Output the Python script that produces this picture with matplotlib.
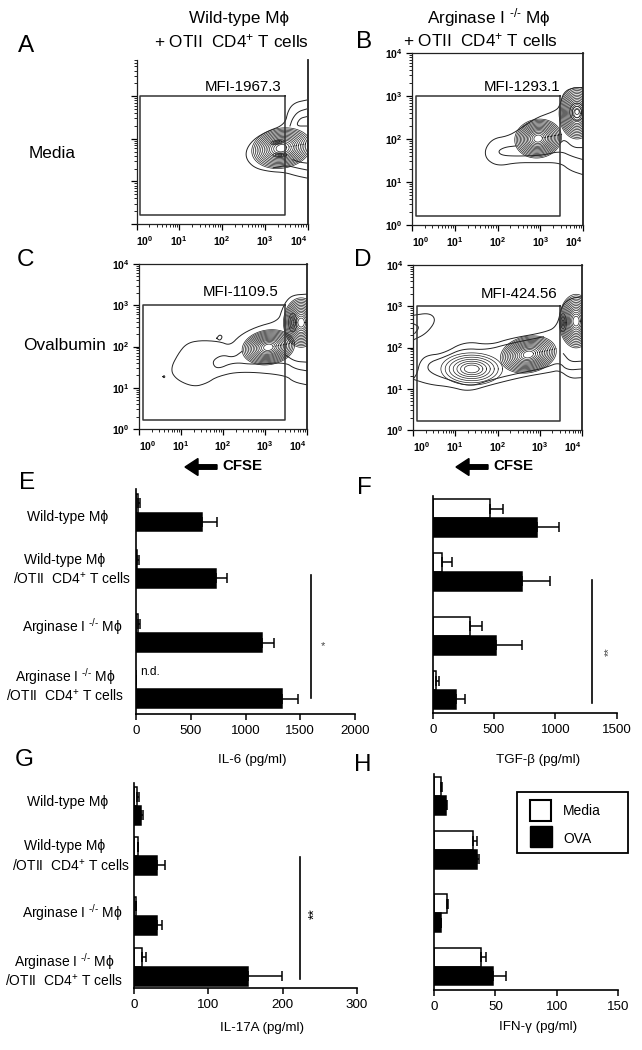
import numpy as np
import matplotlib
matplotlib.use("Agg")
import matplotlib.pyplot as plt
from matplotlib.patches import Rectangle, FancyArrow
from matplotlib.ticker import LogLocator, NullFormatter

plt.rcParams['font.family'] = ['Liberation Sans', 'DejaVu Sans']
plt.rcParams['mathtext.fontset'] = 'custom'
plt.rcParams['mathtext.rm'] = 'Liberation Sans'
plt.rcParams['mathtext.bf'] = 'Liberation Sans:bold'
plt.rcParams['mathtext.default'] = 'regular'

W, H = 642, 1050

# FLOW PANELS: contour outlines, in decades (log10 x, log10 y)

A_LINES = [
    [(3.98,2.91),(3.70,2.85),(3.55,2.68),(3.47,2.33),(3.04,2.17),(2.73,1.98),(2.56,1.74),(2.57,1.51),
     (2.77,1.31),(3.12,1.23),(3.47,1.21),(3.74,1.13),(3.98,1.08)],
    [(3.98,2.70),(3.78,2.64),(3.65,2.48),(3.59,2.30)],
    [(3.98,2.52),(3.82,2.48),(3.73,2.30),(3.98,2.30)],
    [(3.98,1.27),(3.78,1.31),(3.51,1.375),(3.2,1.32)],
    [(3.98,1.43),(3.82,1.45),(3.66,1.51)],
]
B_LINES = [
    [(4.0,3.20),(3.69,3.18),(3.53,3.05),(3.47,2.81),(3.38,2.66),(2.91,2.50),(2.52,2.23),(2.25,2.07),(1.89,2.01),
     (1.70,1.76),(1.74,1.52),(2.01,1.37),(2.44,1.45),(2.91,1.45),(3.47,1.45),(3.69,1.27),(4.0,1.17)],
    [(2.44,1.84),(2.17,1.81),(2.01,1.72),(2.09,1.62),(2.44,1.60),(3.06,1.62),(3.47,1.72),(3.73,1.60),(4.0,1.52)],
    [(3.47,1.91),(3.57,1.99),(3.77,1.80),(4.0,1.80)],
]
C_LINES = [
    [(4.0,3.27),(3.68,3.25),(3.52,3.13),(3.40,2.89),(3.32,2.62),(2.80,2.48),(2.41,2.28),(2.17,2.02),(1.93,2.12),
     (1.46,2.15),(1.14,2.08),(0.94,1.84),(0.74,1.44),(0.90,1.19),(1.30,1.02),(1.62,1.11),(1.85,1.27),(2.41,1.40),
     (3.48,1.31),(3.68,1.14),(4.0,1.07)],
    [(2.45,1.88),(2.25,1.73),(1.97,1.80),(1.73,1.64),(1.85,1.44),(2.25,1.62),(2.72,1.56),(3.48,1.62),(3.71,1.46),(4.0,1.41)],
    [(3.48,1.80),(3.71,1.64),(4.0,1.62)],
    [(1.85,2.20),(1.92,2.29),(1.99,2.24),(1.93,2.14),(1.85,2.20)],
    [(0.57,1.27),(0.60,1.30),(0.62,1.26),(0.59,1.24),(0.57,1.27)],
]
D_LINES = [
    [(4.0,3.23),(3.72,3.19),(3.52,3.02),(3.41,2.50),(3.09,2.36),(2.30,2.22),(1.82,2.06),(1.23,2.15),(0.71,1.85),
     (0.32,1.81),(0.16,1.65),(0.10,1.37),(0.0,1.23)],
    [(0.0,1.23),(0.40,1.10),(0.87,1.05),(1.31,0.93),(1.82,1.09),(2.61,1.29),(3.25,1.40),(3.46,1.45),(3.72,1.25),(4.0,1.27)],
    [(3.09,2.26),(2.30,2.10),(1.74,1.94),(1.19,1.98),(0.75,1.77),(0.40,1.65),(0.33,1.49),(0.48,1.35),(0.87,1.21),
     (1.35,1.05),(1.82,1.21),(2.46,1.37),(3.09,1.49),(3.46,1.65),(3.64,1.45),(4.0,1.48)],
    [(4.0,1.67),(3.72,1.65),(3.56,1.85)],
    [(0.0,2.78),(0.40,2.84),(0.55,2.66),(0.32,2.34),(0.0,2.18)],
    [(0.0,2.58),(0.16,2.50),(0.04,2.34)],
]

# ring spacing of each peak kind
DENSE = [1.0, 0.94, 0.88, 0.82, 0.76, 0.70, 0.64, 0.58, 0.52, 0.46, 0.40, 0.33, 0.26, 0.18]
WIDE = [1.0, 0.86, 0.73, 0.60, 0.48, 0.36, 0.24]
SMALL = [1.0, 0.65, 0.3]

# peaks: centre x, centre y, half width, half height, tilt in degrees, rings
A_PEAKS = [(3.39,1.78,0.70,0.47,10,DENSE), (3.30,1.92,0.16,0.05,10,SMALL), (3.35,1.62,0.16,0.05,0,SMALL)]
B_PEAKS = [(2.95,2.01,0.55,0.45,10,DENSE), (3.86,2.60,0.42,0.60,0,DENSE), (3.86,2.63,0.17,0.20,0,SMALL)]
C_PEAKS = [(3.08,1.98,0.63,0.42,10,DENSE), (3.86,2.58,0.42,0.60,0,DENSE), (3.66,2.58,0.10,0.22,0,SMALL)]
D_PEAKS = [(1.39,1.48,0.73,0.39,0,WIDE), (2.73,1.83,0.67,0.44,12,DENSE), (3.86,2.64,0.40,0.65,0,DENSE),
           (3.55,2.60,0.08,0.22,0,SMALL)]

GATE_X = [0.09, 3.47]
GATE_Y = [0.22, 3.0]
FLOW_TICKS = [1, 10, 100, 1000, 10000]
FLOW_TICK_LABELS = [r'$\mathbf{10^{0}}$', r'$\mathbf{10^{1}}$', r'$\mathbf{10^{2}}$', r'$\mathbf{10^{3}}$', r'$\mathbf{10^{4}}$']

# BAR PANELS: pg/ml, "top" is where the error bar ends

MEDIA_E = [20, 12, 20, 0]
MEDIA_E_TOP = [37, 30, 40, 0]
OVA_E = [600, 732, 1152, 1332]
OVA_E_TOP = [738, 830, 1256, 1479]

MEDIA_F = [466, 79, 306, 27]
MEDIA_F_TOP = [575, 154, 404, 54]
OVA_F = [848, 729, 515, 192]
OVA_F_TOP = [1027, 954, 724, 260]

MEDIA_G = [4, 4.5, 2, 11]
MEDIA_G_TOP = [6, 5.4, 2.5, 16]
OVA_G = [9, 30, 31, 153]
OVA_G_TOP = [12, 41, 38, 199]

MEDIA_H = [5.4, 31.6, 10.3, 38]
MEDIA_H_TOP = [6.5, 35.4, 11.7, 42]
OVA_H = [9.8, 34.8, 6, 48]
OVA_H_TOP = [10.3, 36.5, 6, 58.5]

ROWS_E = [512.7, 569, 633.3, 689.3]
ROWS_F = [518, 571.7, 635.7, 690]
ROWS_G = [806, 856, 915.7, 966.7]
ROWS_H = [796, 850, 913.3, 966.7]
BAR_H = 18.8

WT = 'Wild-type Mϕ'
KO = r'Arginase I $^{\text{-/-}}$ Mϕ'
OT = '/OTII  CD4$^{+}$ T cells'
PLUS_OT = '+ OTII  CD4$^{+}$ T cells'

fig = plt.figure(figsize=(W / 100, H / 100), dpi=100)


def px_axes(x0, x1, ytop, ybot):
    return fig.add_axes([x0 / W, 1 - ybot / H, (x1 - x0) / W, (ybot - ytop) / H])


def smooth(pts, rounds=3):
    # corner cutting, end points stay where they are
    pts = np.array(pts, float)
    for _ in range(rounds):
        q = 0.75 * pts[:-1] + 0.25 * pts[1:]
        r = 0.25 * pts[:-1] + 0.75 * pts[1:]
        mid = np.empty((len(q) * 2, 2))
        mid[0::2] = q
        mid[1::2] = r
        pts = np.vstack([pts[0], mid, pts[-1]])
    return pts


def flow_panel(box, lines, peaks, top=4.0, ylabels=True, topline=True):
    ax = px_axes(*box)
    ax.set_xscale('log')
    ax.set_yscale('log')
    ax.set_xlim(1, 10000)
    ax.set_ylim(1, 10 ** top)
    for line in lines:
        p = smooth(line)
        ax.plot(10 ** p[:, 0], 10 ** p[:, 1], color='#222222', lw=0.7)
    th = np.linspace(0, 2 * np.pi, 80)
    for cx, cy, rx, ry, tilt, rings in peaks:
        t = np.radians(tilt)
        for s in rings:
            ex, ey = s * rx * np.cos(th), s * ry * np.sin(th)
            ax.plot(10 ** (cx + ex * np.cos(t) - ey * np.sin(t)), 10 ** (cy + ex * np.sin(t) + ey * np.cos(t)),
                    color='#222222', lw=0.5)
    gx = 10.0 ** np.array([GATE_X[1], GATE_X[0], GATE_X[0], GATE_X[1], GATE_X[1]])
    gy = 10.0 ** np.array([GATE_Y[1], GATE_Y[1], GATE_Y[0], GATE_Y[0], GATE_Y[1]])
    ax.plot(gx, gy, color='#333333', lw=1.1)
    ax.set_xticks(FLOW_TICKS)
    ax.set_xticklabels(FLOW_TICK_LABELS, fontsize=7.5)
    ax.get_xticklabels()[0].set_ha('left')
    ax.get_xticklabels()[-1].set_ha('right')
    ax.set_yticks(FLOW_TICKS[:5] if top >= 4 else FLOW_TICKS[:4])
    if ylabels:
        ax.set_yticklabels(FLOW_TICK_LABELS, fontsize=7.5)
    else:
        ax.set_yticklabels([])
    for axis in (ax.xaxis, ax.yaxis):
        axis.set_minor_locator(LogLocator(base=10, subs=np.arange(2, 10), numticks=12))
        axis.set_minor_formatter(NullFormatter())
    ax.tick_params(which='major', length=4, width=0.9, pad=3)
    ax.tick_params(which='minor', length=2, width=0.6)
    for s in ax.spines.values():
        s.set_linewidth(0.9)
        s.set_color('#222222')
    ax.spines['right'].set_linewidth(1.3)
    ax.spines['top'].set_visible(topline)
    return ax


def bar_panel(box, xmax, xticks, rows, media, media_top, ova, ova_top, sig=None):
    ax = px_axes(*box)
    rows = np.array(rows)
    media, media_top = np.array(media, float), np.array(media_top, float)
    ova, ova_top = np.array(ova, float), np.array(ova_top, float)
    ax.barh(rows - BAR_H / 2, media, BAR_H, color='white', edgecolor='black', lw=1.1)
    ax.barh(rows + BAR_H / 2, ova, BAR_H, color='black', edgecolor='black', lw=1.1)
    ax.errorbar(media, rows - BAR_H / 2, xerr=[np.zeros(4), media_top - media], fmt='none',
                ecolor='black', elinewidth=1.1, capsize=3.4, capthick=1.1)
    ax.errorbar(ova, rows + BAR_H / 2, xerr=[np.zeros(4), ova_top - ova], fmt='none',
                ecolor='black', elinewidth=1.1, capsize=3.4, capthick=1.1)
    if sig:
        ax.plot([sig[0], sig[0]], [sig[1], sig[2]], color='black', lw=1.2)
    ax.set_xlim(0, xmax)
    ax.set_ylim(box[3], box[2])
    ax.set_xticks(xticks)
    ax.set_yticks([])
    ax.tick_params(axis='x', length=4, width=1.1, labelsize=9.6, pad=4, direction='out')
    ax.spines['top'].set_visible(False)
    ax.spines['right'].set_visible(False)
    ax.spines['left'].set_linewidth(1.2)
    ax.spines['bottom'].set_linewidth(1.2)
    ax.patch.set_alpha(0)
    return ax


flow_panel((136.5, 307.5, 60, 224), A_LINES, A_PEAKS, top=3.85, ylabels=False, topline=False)
flow_panel((412, 583, 53, 225), B_LINES, B_PEAKS)
flow_panel((139, 307, 264, 429), C_LINES, C_PEAKS)
flow_panel((413, 582, 265, 430), D_LINES, D_PEAKS)

bar_panel((136, 355, 489, 714), 2000, [0, 500, 1000, 1500, 2000], ROWS_E, MEDIA_E, MEDIA_E_TOP, OVA_E, OVA_E_TOP,
          sig=(1595, 575, 698))
bar_panel((432.7, 616.7, 496, 713), 1500, [0, 500, 1000, 1500], ROWS_F, MEDIA_F, MEDIA_F_TOP, OVA_F, OVA_F_TOP,
          sig=(1299, 580, 702.7))
bar_panel((134.3, 356.7, 783, 988.3), 300, [0, 100, 200, 300], ROWS_G, MEDIA_G, MEDIA_G_TOP, OVA_G, OVA_G_TOP,
          sig=(224, 857, 979))
bar_panel((434, 618.3, 774, 990), 150, [0, 50, 100, 150], ROWS_H, MEDIA_H, MEDIA_H_TOP, OVA_H, OVA_H_TOP)

# TEXT AND LEGEND, placed in figure pixels

over = fig.add_axes([0, 0, 1, 1], zorder=10)
over.set_xlim(0, W)
over.set_ylim(H, 0)
over.axis('off')


def label(x, y, s, size=10, **kw):
    over.text(x, y, s, fontsize=size, ha=kw.pop('ha', 'center'), va=kw.pop('va', 'center'), **kw)


for letter, x, y in [('A', 26, 46.5), ('B', 364, 42.5), ('C', 26, 260.5), ('D', 363, 259.5),
                     ('E', 27, 483), ('F', 364, 488), ('G', 24, 760.5), ('H', 363, 765)]:
    label(x, y, letter, size=17.5)

label(239, 18, WT, size=12.3)
label(231, 41, PLUS_OT, size=12.3)
label(489, 18, KO, size=12.3)
label(480, 40, PLUS_OT, size=12.3)
label(52, 153, 'Media', size=12.4)
label(65, 346, 'Ovalbumin', size=12.4)
label(243, 87, 'MFI-1967.3', size=10.8)
label(522, 87, 'MFI-1293.1', size=10.8)
label(241, 292, 'MFI-1109.5', size=10.8)
label(519, 294, 'MFI-424.56', size=10.8)

for x_tail, x_text in [(217, 222), (488, 493)]:
    over.add_patch(FancyArrow(x_tail, 467, -32, 0, width=4.5, head_width=17, head_length=13,
                              length_includes_head=True, color='black'))
    label(x_text, 466.5, 'CFSE', size=10.8, ha='left', fontweight='bold')

E_LABELS = [(68, 517, WT), (65, 560, WT), (72, 579, OT), (72, 627, KO), (65, 677, KO), (65, 696, OT)]
G_LABELS = [(68, 802, WT), (65, 846, WT), (71, 866, OT), (72, 913, KO), (64, 962, KO), (64, 981, OT)]
for x, y, s in E_LABELS + G_LABELS:
    label(x, y, s)

label(150, 672, 'n.d.', size=8.6)
label(322.7, 646, '*', size=8, color='#444444')
label(609, 652, '**', size=8, rotation=90, color='#444444')
label(315, 914, '**', size=10, rotation=90)

label(252, 760, 'IL-6 (pg/ml)', size=9.6)
label(538, 760, 'TGF-β (pg/ml)', size=9.6)
label(262, 1028, 'IL-17A (pg/ml)', size=9.6)
label(538, 1027, 'IFN-γ (pg/ml)', size=9.6)

over.add_patch(Rectangle((517, 792), 111, 61, facecolor='white', edgecolor='black', lw=1.3))
over.add_patch(Rectangle((529.5, 799.5), 21, 21, facecolor='white', edgecolor='black', lw=1.5))
over.add_patch(Rectangle((529.5, 826), 22, 21, facecolor='black', edgecolor='black', lw=1))
label(563, 811, 'Media', size=10, ha='left')
label(563, 839, 'OVA', size=10, ha='left')

fig.savefig('out.png', dpi=100)
